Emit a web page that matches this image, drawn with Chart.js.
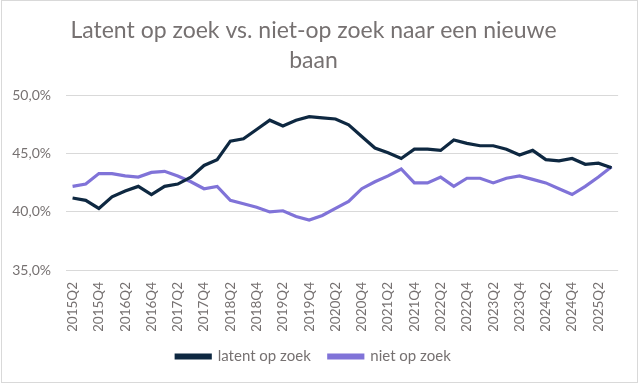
<!DOCTYPE html>
<html>
<head>
<meta charset="utf-8">
<script src="https://cdn.jsdelivr.net/npm/chart.js@4"></script>
<style>
  html, body { margin: 0; padding: 0; background: #fff; }
  #wrap { width: 640px; height: 384px; }
</style>
</head>
<body>
<div id="wrap"><canvas id="lineChart" width="640" height="384"></canvas></div>
<script>
// kwartalen
const quarters = [
  '2015Q2','2015Q3','2015Q4','2016Q1','2016Q2','2016Q3','2016Q4','2017Q1','2017Q2','2017Q3',
  '2017Q4','2018Q1','2018Q2','2018Q3','2018Q4','2019Q1','2019Q2','2019Q3','2019Q4','2020Q1',
  '2020Q2','2020Q3','2020Q4','2021Q1','2021Q2','2021Q3','2021Q4','2022Q1','2022Q2','2022Q3',
  '2022Q4','2023Q1','2023Q2','2023Q3','2023Q4','2024Q1','2024Q2','2024Q3','2024Q4','2025Q1',
  '2025Q2','2025Q3'
];

// percentages per kwartaal
const latentOpZoek = [
  41.2, 41.0, 40.3, 41.3, 41.8, 42.2, 41.5, 42.2, 42.4, 43.0,
  44.0, 44.5, 46.1, 46.3, 47.1, 47.9, 47.4, 47.9, 48.2, 48.1,
  48.0, 47.5, 46.5, 45.5, 45.1, 44.6, 45.4, 45.4, 45.3, 46.2,
  45.9, 45.7, 45.7, 45.4, 44.9, 45.3, 44.5, 44.4, 44.6, 44.1,
  44.2, 43.8
];
const nietOpZoek = [
  42.2, 42.4, 43.3, 43.3, 43.1, 43.0, 43.4, 43.5, 43.1, 42.6,
  42.0, 42.2, 41.0, 40.7, 40.4, 40.0, 40.1, 39.6, 39.3, 39.7,
  40.3, 40.9, 42.0, 42.6, 43.1, 43.7, 42.5, 42.5, 43.0, 42.2,
  42.9, 42.9, 42.5, 42.9, 43.1, 42.8, 42.5, 42.0, 41.5, 42.2,
  43.0, 43.9
];

const titleLines = ['Latent op zoek vs. niet-op zoek naar een nieuwe', 'baan'];
const textColor = '#767171';

// dunne rand rond de grafiek
const borderPlugin = {
  id: 'frame',
  afterDraw(chart) {
    const ctx = chart.ctx;
    ctx.save();
    ctx.strokeStyle = '#d9d9d9';
    ctx.lineWidth = 1;
    ctx.strokeRect(1.5, 0.5, 636, 382);
    ctx.restore();
  }
};

const ctx = document.getElementById('lineChart').getContext('2d');
new Chart(ctx, {
  type: 'line',
  data: {
    labels: quarters,
    datasets: [{
      label: 'latent op zoek',
      data: latentOpZoek,
      borderColor: '#0e2841',
      backgroundColor: '#0e2841',
      borderWidth: 3.2,
      pointRadius: 0,
      tension: 0,
      fill: false
    }, {
      label: 'niet op zoek',
      data: nietOpZoek,
      borderColor: '#8073d8',
      backgroundColor: '#8073d8',
      borderWidth: 3.2,
      pointRadius: 0,
      tension: 0,
      fill: false
    }]
  },
  options: {
    responsive: false,
    animation: false,
    layout: { padding: { top: 0, right: 21, left: 8, bottom: 10 } },
    plugins: {
      title: {
        display: true,
        text: titleLines,
        color: textColor,
        font: { family: 'Lato', size: 23, weight: 'normal', lineHeight: 1.3 },
        padding: { top: 16, bottom: 20 }
      },
      legend: {
        position: 'bottom',
        labels: {
          color: textColor,
          font: { family: 'Lato', size: 15 },
          boxWidth: 34,
          boxHeight: 3,
          padding: 18
        }
      },
      tooltip: { enabled: false }
    },
    scales: {
      x: {
        offset: true,
        grid: { display: false, drawTicks: false },
        border: { display: false },
        ticks: {
          color: textColor,
          font: { family: 'Lato', size: 13.5 },
          autoSkip: false,
          maxRotation: 90,
          minRotation: 90,
          padding: 12,
          callback: function (value, index) {
            return index % 2 === 0 ? this.getLabelForValue(value) : '';
          }
        },
        afterFit: axis => { axis.height = 61; }
      },
      y: {
        min: 35,
        max: 50,
        grid: { color: '#d9d9d9', lineWidth: 1, drawTicks: false },
        border: { display: false },
        ticks: {
          stepSize: 5,
          color: textColor,
          font: { family: 'Lato', size: 14 },
          padding: 15,
          callback: v => v.toFixed(1).replace('.', ',') + '%'
        },
        afterFit: axis => { axis.width = 58; }
      }
    }
  },
  plugins: [borderPlugin]
});
</script>
</body>
</html>
